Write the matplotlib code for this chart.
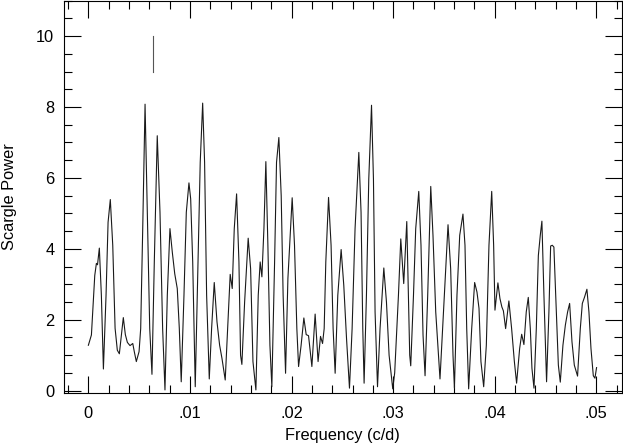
import numpy as np
import matplotlib
matplotlib.use("Agg")
import matplotlib.pyplot as plt
from matplotlib.ticker import MultipleLocator, FuncFormatter

# periodogram (frequency in c/d, Scargle power)
freq = [
    0.00000, 0.00030, 0.00063, 0.00079, 0.00090, 0.00108, 0.00128, 0.00148,
    0.00174, 0.00194, 0.00216, 0.00240, 0.00263, 0.00285, 0.00305, 0.00325,
    0.00344, 0.00364, 0.00384, 0.00410, 0.00437, 0.00452, 0.00472, 0.00499,
    0.00515, 0.00535, 0.00558, 0.00580, 0.00604, 0.00626, 0.00649, 0.00678,
    0.00705, 0.00731, 0.00754, 0.00777, 0.00803, 0.00826, 0.00850, 0.00875,
    0.00895, 0.00914, 0.00941, 0.00964, 0.00990, 0.01007, 0.01027, 0.01052,
    0.01079, 0.01101, 0.01125, 0.01144, 0.01164, 0.01190, 0.01213, 0.01239,
    0.01266, 0.01292, 0.01315, 0.01347, 0.01374, 0.01396, 0.01416, 0.01436,
    0.01459, 0.01482, 0.01498, 0.01511, 0.01538, 0.01573, 0.01597, 0.01620,
    0.01649, 0.01672, 0.01691, 0.01708, 0.01728, 0.01747, 0.01767, 0.01787,
    0.01806, 0.01833, 0.01852, 0.01875, 0.01898, 0.01917, 0.01941, 0.01964,
    0.02006, 0.02029, 0.02052, 0.02069, 0.02094, 0.02121, 0.02144, 0.02167,
    0.02200, 0.02232, 0.02261, 0.02285, 0.02305, 0.02321, 0.02337, 0.02364,
    0.02389, 0.02409, 0.02429, 0.02455, 0.02488, 0.02514, 0.02541, 0.02570,
    0.02596, 0.02625, 0.02662, 0.02684, 0.02701, 0.02714, 0.02737, 0.02760,
    0.02787, 0.02806, 0.02822, 0.02846, 0.02871, 0.02908, 0.02934, 0.02960,
    0.02996, 0.03015, 0.03052, 0.03075, 0.03104, 0.03134, 0.03150, 0.03163,
    0.03173, 0.03200, 0.03222, 0.03252, 0.03274, 0.03294, 0.03314, 0.03340,
    0.03370, 0.03392, 0.03419, 0.03461, 0.03495, 0.03540, 0.03566, 0.03589,
    0.03603, 0.03628, 0.03655, 0.03687, 0.03707, 0.03724, 0.03743, 0.03773,
    0.03802, 0.03825, 0.03845, 0.03864, 0.03891, 0.03917, 0.03943, 0.03970,
    0.03989, 0.04002, 0.04031, 0.04051, 0.04070, 0.04085, 0.04107, 0.04139,
    0.04166, 0.04193, 0.04215, 0.04245, 0.04265, 0.04287, 0.04310, 0.04330,
    0.04350, 0.04366, 0.04386, 0.04409, 0.04429, 0.04448, 0.04464, 0.04484,
    0.04510, 0.04533, 0.04550, 0.04566, 0.04582, 0.04606, 0.04626, 0.04645,
    0.04671, 0.04695, 0.04717, 0.04737, 0.04760, 0.04783, 0.04815, 0.04842,
    0.04862, 0.04884, 0.04907, 0.04927, 0.04947, 0.04970, 0.04986, 0.05002,
]
power = [
    1.28, 1.57, 3.25, 3.59, 3.55, 4.02, 2.69, 0.61,
    2.69, 4.75, 5.39, 4.10, 1.76, 1.14, 1.04, 1.57,
    2.06, 1.58, 1.36, 1.27, 1.33, 1.10, 0.82, 1.10,
    1.75, 4.57, 8.08, 5.03, 1.75, 0.46, 3.63, 7.19,
    5.03, 1.75, 0.02, 2.69, 4.57, 3.91, 3.30, 2.88,
    1.76, 0.25, 2.69, 5.03, 5.86, 5.41, 3.63, 0.11,
    3.63, 6.44, 8.11, 6.44, 2.69, 0.33, 1.75, 3.05,
    1.94, 1.28, 0.91, 0.30, 1.94, 3.28, 2.88, 4.57,
    5.55, 3.63, 1.00, 0.74, 2.50, 4.30, 3.44, 0.82,
    0.02, 2.69, 3.63, 3.21, 4.57, 6.46, 4.10, 1.28,
    0.11, 3.63, 6.44, 7.14, 5.50, 2.69, 0.49, 3.16,
    5.44, 4.10, 1.75, 0.68, 1.28, 2.05, 1.58, 1.55,
    0.68, 2.16, 0.82, 1.53, 1.33, 1.75, 3.63, 5.45,
    4.10, 1.75, 0.49, 2.69, 3.98, 2.97, 1.47, 0.07,
    1.75, 4.57, 6.72, 5.03, 1.75, 0.21, 2.69, 5.97,
    8.05, 5.97, 2.22, 0.11, 1.75, 3.46, 2.50, 1.00,
    0.05, 0.50, 2.69, 4.28, 3.02, 4.77, 2.69, 1.00,
    0.70, 2.69, 4.57, 5.62, 4.10, 1.57, 0.42, 2.69,
    5.76, 4.38, 2.22, 0.33, 2.22, 4.68, 3.44, 1.00,
    0.07, 2.69, 4.38, 4.98, 4.10, 1.75, 0.05, 1.75,
    3.05, 2.78, 2.32, 0.82, 0.11, 1.28, 4.10, 5.62,
    4.10, 2.27, 3.04, 2.60, 2.36, 2.25, 1.75, 2.53,
    1.75, 0.82, 0.21, 1.19, 1.59, 1.30, 2.22, 2.63,
    1.75, 0.63, 0.07, 1.75, 3.81, 4.38, 4.78, 2.69,
    0.25, 2.22, 4.08, 4.10, 4.05, 2.22, 0.72, 0.24,
    1.28, 1.85, 2.22, 2.46, 1.38, 0.72, 0.41, 1.75,
    2.46, 2.64, 2.86, 2.22, 1.19, 0.42, 0.35, 0.65,
]

# marker line above the peak
mark_freq = 0.00633
mark_range = [9.0, 10.0]

plt.rcParams['font.family'] = ['Liberation Sans', 'DejaVu Sans']
plt.rcParams['font.size'] = 11.8

fig = plt.figure(figsize=(6.23, 4.44), dpi=100)
ax = fig.add_axes([0.1027, 0.1142, 0.8953, 0.8843])

ax.plot(freq, power, color='#1a1a1a', lw=0.8)
ax.plot([mark_freq, mark_freq], mark_range, color='#555555', lw=0.8)

ax.set_xlim(-0.0024, 0.0525)
ax.set_ylim(-0.075, 11.0)

ax.xaxis.set_major_locator(MultipleLocator(0.01))
ax.xaxis.set_minor_locator(MultipleLocator(0.002))
ax.yaxis.set_major_locator(MultipleLocator(2))
ax.yaxis.set_minor_locator(MultipleLocator(0.5))


def fmt_freq(v, pos):
    if abs(v) < 1e-9:
        return '0'
    return ('%.2f' % v).lstrip('0')


ax.xaxis.set_major_formatter(FuncFormatter(fmt_freq))
ax.tick_params(which='both', direction='in', top=True, right=True, width=0.8)
ax.tick_params(which='major', length=12)
ax.tick_params(which='minor', length=6)
ax.tick_params(axis='x', which='major', pad=9)
ax.tick_params(axis='y', which='major', pad=7)
for s in ax.spines.values():
    s.set_linewidth(0.8)

ax.set_xlabel('Frequency (c/d)', labelpad=5)
ax.set_ylabel('Scargle Power', labelpad=14)

fig.savefig('out.png', dpi=100)
